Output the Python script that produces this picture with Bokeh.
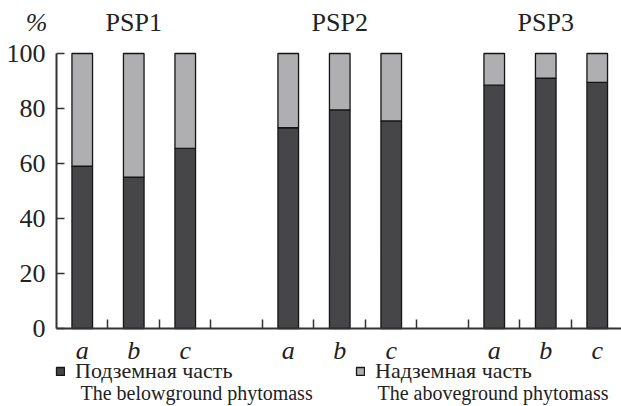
from bokeh.plotting import figure
from bokeh.models import Range1d, FixedTicker, LinearAxis, Legend, LegendItem, Label, ColumnDataSource
from bokeh.embed import file_html
from bokeh.resources import INLINE

groups = ["PSP1", "PSP2", "PSP3"]
sites = ["a", "b", "c"]
below = [59, 55, 65.5, 73, 79.5, 75.5, 88.5, 91, 89.5]
total = [100] * 9

DARK = "#464648"
LIGHT = "#afafb1"
TXT = "#222222"
FONT = "Liberation Serif"

xs = []
labels = []
for gi, g in enumerate(groups):
    for si, s in enumerate(sites):
        xs.append(gi * 4 + si + 0.5)
        labels.append(s)
src = ColumnDataSource(dict(x=xs, below=below, total=total))

p = figure(width=621, height=406, x_range=Range1d(-1.0874, 10.971), y_range=Range1d(-28.364, 119.273),
           output_backend="svg", toolbar_location=None, x_axis_type=None, y_axis_type=None,
           min_border=0)
p.outline_line_color = None
p.xgrid.visible = False
p.ygrid.visible = False
p.background_fill_color = None
p.border_fill_color = "white"

r1 = p.vbar(x="x", top="below", bottom=0, width=0.4, fill_color=DARK, line_color="#151515", line_width=1.3, source=src)
r2 = p.vbar(x="x", top="total", bottom="below", width=0.4, fill_color=LIGHT, line_color="#151515", line_width=1.3, source=src)

# x axis
xa = LinearAxis(fixed_location=0, bounds=(0, 10.971))
xa.ticker = FixedTicker(ticks=xs, minor_ticks=[1, 2, 3, 4, 5, 6, 7, 8, 9, 10])
xa.major_label_overrides = {x: l for x, l in zip(xs, labels)}
xa.major_tick_in = 0
xa.major_tick_out = 0
xa.minor_tick_in = 9
xa.minor_tick_out = 0
xa.minor_tick_line_color = "#333333"
xa.minor_tick_line_width = 1.5
xa.axis_line_color = "#333333"
xa.axis_line_width = 2
xa.major_label_text_font = FONT
xa.major_label_text_font_style = "italic"
xa.major_label_text_font_size = "26px"
xa.major_label_text_color = TXT
xa.major_label_standoff = 8
p.add_layout(xa, "below")

# y axis
ya = LinearAxis(fixed_location=0, bounds=(0, 100))
ya.ticker = FixedTicker(ticks=[0, 20, 40, 60, 80, 100])
ya.major_tick_in = 8
ya.major_tick_out = 0
ya.minor_tick_line_color = None
ya.major_tick_line_color = "#333333"
ya.major_tick_line_width = 1.5
ya.axis_line_color = "#333333"
ya.axis_line_width = 2
ya.major_label_text_font = FONT
ya.major_label_text_font_size = "26px"
ya.major_label_text_color = TXT
ya.major_label_standoff = 11
p.add_layout(ya, "left")

# group titles on top
group_x = [gi * 4 + 1.5 for gi in range(len(groups))]
for gx, g in zip(group_x, groups):
    p.add_layout(Label(x=gx, y=111.3, text=g, text_align="center", text_baseline="alphabetic",
                       text_font=FONT, text_font_size="26px", text_color=TXT))

p.add_layout(Label(x=-0.175, y=111.3, text="%", text_align="right", text_baseline="alphabetic",
                   text_font=FONT, text_font_style="italic", text_font_size="26px", text_color=TXT))

leg_common = dict(glyph_width=10, glyph_height=10, padding=0, margin=0, label_standoff=10,
                  label_height=24, border_line_color=None, background_fill_alpha=0,
                  label_text_font=FONT, label_text_font_size="22px", label_text_color=TXT)
l1 = Legend(items=[LegendItem(label="Подземная часть", renderers=[r1])], location=(55, 22), **leg_common)
l2 = Legend(items=[LegendItem(label="Надземная часть", renderers=[r2])], location=(355, 22), **leg_common)
p.add_layout(l1, "center")
p.add_layout(l2, "center")

for xt, txt in [(0.466, "The belowground phytomass"), (6.233, "The aboveground phytomass")]:
    p.add_layout(Label(x=xt, y=-23.3, text=txt, text_align="left", text_baseline="alphabetic",
                       text_font=FONT, text_font_size="20px", text_color=TXT))

open("out.html", "w").write(file_html(p, INLINE))
